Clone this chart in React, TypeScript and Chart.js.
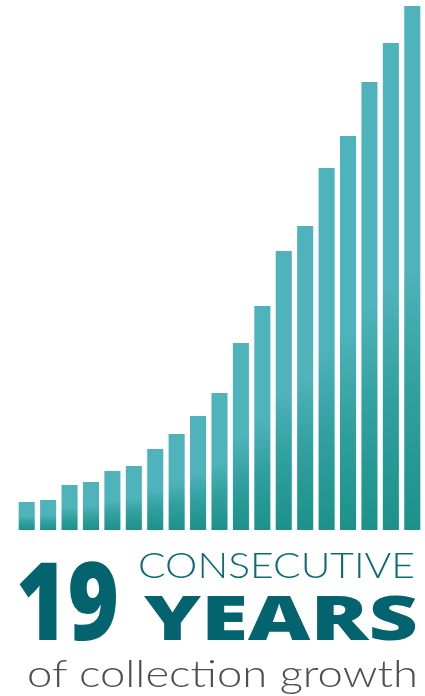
import React, { useEffect, useRef } from "react";
import { Chart, registerables } from "chart.js";

Chart.register(...registerables);

const years: string[] = [
  "Y1", "Y2", "Y3", "Y4", "Y5", "Y6", "Y7", "Y8", "Y9", "Y10",
  "Y11", "Y12", "Y13", "Y14", "Y15", "Y16", "Y17", "Y18", "Y19",
];
const collectionSize: number[] = [
  28, 30, 45, 48, 59, 64, 81, 96, 114, 137, 187, 224, 279, 304, 362, 394, 448, 487, 524,
];
const yMax = 530;

const LIGHT = "#4fb3bb";
const MID = "#32a1a0";
const DARK = "#1c918a";
const TEXT_TEAL = "#03646f";

export default function App() {
  const canvasRef = useRef<HTMLCanvasElement | null>(null);

  useEffect(() => {
    const canvas = canvasRef.current;
    if (!canvas) return;
    const chart = new Chart(canvas, {
      type: "bar",
      data: {
        labels: years,
        datasets: [
          {
            data: collectionSize,
            barPercentage: 0.75,
            categoryPercentage: 1,
            borderWidth: 0,
            backgroundColor: (ctx: any) => {
              const c = ctx.chart;
              const ys = c.scales && c.scales.y;
              if (!ys || ctx.type !== "data") return LIGHT;
              const v = ctx.raw as number;
              const top = ys.getPixelForValue(v);
              const base = ys.getPixelForValue(0);
              if (!isFinite(top) || !isFinite(base) || base - top < 1) return LIGHT;
              const g = c.ctx.createLinearGradient(0, top, 0, base);
              g.addColorStop(0, LIGHT);
              g.addColorStop(0.5, LIGHT);
              g.addColorStop(0.72, MID);
              g.addColorStop(1, DARK);
              return g;
            },
          },
        ],
      },
      options: {
        animation: false,
        responsive: false,
        maintainAspectRatio: false,
        layout: { padding: { left: 16, right: 2, top: 0, bottom: 0 } },
        plugins: { legend: { display: false }, tooltip: { enabled: false }, title: { display: false } },
        scales: {
          x: { display: false, grid: { display: false } },
          y: { display: false, min: 0, max: yMax, grid: { display: false } },
        },
      },
    });
    return () => chart.destroy();
  }, []);

  return (
    <div style={{ position: "absolute", left: 0, top: 0, width: 425, height: 696, background: "#fff", overflow: "hidden" }}>
      <canvas ref={canvasRef} width={425} height={530} style={{ position: "absolute", left: 0, top: 0, width: 425, height: 530 }} />
      <svg width={425} height={696} style={{ position: "absolute", left: 0, top: 0 }}>
        <text x={16} y={640} fontFamily="'Open Sans', Lato, sans-serif" fontWeight={800} fontSize={109} fill={TEXT_TEAL} textLength={103} lengthAdjust="spacingAndGlyphs">19</text>
        <text x={138} y={578} fontFamily="Lato, 'DejaVu Sans', sans-serif" fontWeight={300} fontSize={35} fill="#0b6c78" textLength={277} lengthAdjust="spacingAndGlyphs">CONSECUTIVE</text>
        <text x={144} y={640} fontFamily="'Open Sans', Lato, sans-serif" fontWeight={800} fontSize={62} fill={TEXT_TEAL} textLength={274} lengthAdjust="spacingAndGlyphs">YEARS</text>
        <text x={27} y={687} fontFamily="Lato, 'DejaVu Sans', sans-serif" fontWeight={300} fontSize={37} fill="#4f4f4f" textLength={391} lengthAdjust="spacingAndGlyphs">of collection growth</text>
      </svg>
    </div>
  );
}
